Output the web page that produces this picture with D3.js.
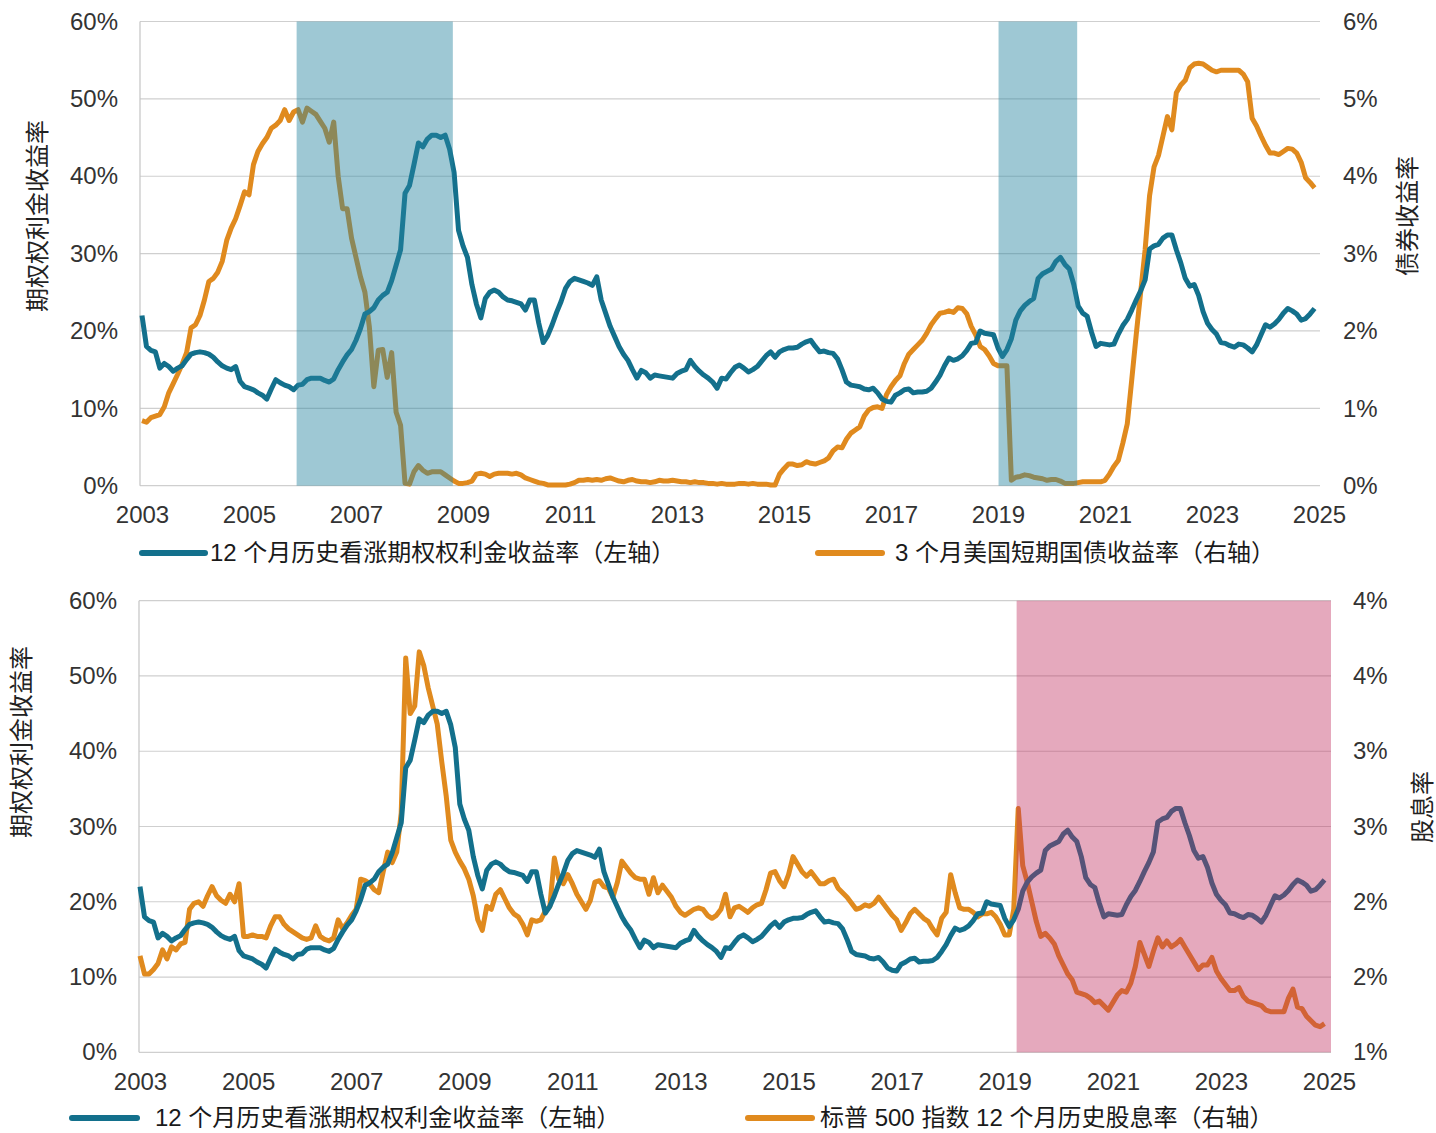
<!DOCTYPE html>
<html>
<head>
<meta charset="utf-8">
<script src="https://cdn.jsdelivr.net/npm/d3@7"></script>
<style>
  body { margin: 0; background: #fff; }
  svg text { font-family: "Liberation Sans", Arial, "Noto Sans CJK SC", sans-serif; }
</style>
</head>
<body>
<script>
// monthly series, Jan 2003 - Dec 2024
const startYear = 2003;

// 12 个月历史看涨期权权利金收益率 (%)
const callYield = [
  22.0, 18.0, 17.5, 17.3, 15.2, 15.8, 15.4, 14.8, 15.2, 15.5, 16.3, 17.0,
  17.2, 17.3, 17.2, 17.0, 16.6, 16.0, 15.5, 15.2, 15.0, 15.4, 13.5, 12.8,
  12.6, 12.4, 12.0, 11.7, 11.2, 12.5, 13.7, 13.3, 13.0, 12.8, 12.4, 13.0,
  13.1, 13.7, 13.9, 13.9, 13.9, 13.6, 13.4, 13.8, 15.0, 16.0, 16.9, 17.6,
  18.8, 20.3, 22.2, 22.5, 23.0, 24.0, 24.6, 25.0, 26.5, 28.5, 30.5, 37.8,
  38.8, 41.5, 44.3, 43.8, 44.8, 45.3, 45.3, 45.0, 45.3, 43.5, 40.5, 33.0,
  31.0, 29.5, 26.0, 23.5, 21.7, 24.2, 25.0, 25.3, 25.0, 24.4, 24.0, 23.9,
  23.7, 23.5, 22.7, 24.0, 24.0, 21.0, 18.5, 19.4, 20.8, 22.4, 23.8, 25.5,
  26.4, 26.8, 26.6, 26.4, 26.2, 25.9, 27.0, 24.0, 22.3, 20.6, 19.3, 18.0,
  17.0, 16.2, 15.0, 13.9, 14.9, 14.6, 13.9, 14.3, 14.2, 14.1, 14.0, 13.9,
  14.5, 14.8, 15.0, 16.2, 15.4, 14.8, 14.3, 13.9, 13.4, 12.6, 13.9, 13.8,
  14.6, 15.3, 15.6, 15.2, 14.7, 15.0, 15.4, 16.1, 16.8, 17.3, 16.6, 17.3,
  17.6, 17.8, 17.8, 17.9, 18.3, 18.6, 18.8, 18.0, 17.3, 17.4, 17.2, 17.1,
  16.4, 15.0, 13.4, 13.0, 12.9, 12.8, 12.5, 12.4, 12.6, 12.0, 11.2, 10.9,
  10.8, 11.7, 12.0, 12.4, 12.5, 12.0, 12.1, 12.1, 12.2, 12.6, 13.4, 14.3,
  15.5, 16.5, 16.2, 16.4, 16.8, 17.5, 18.4, 18.5, 20.0, 19.7, 19.6, 19.5,
  17.8, 16.7, 17.6, 19.0, 21.4, 22.6, 23.3, 23.8, 24.2, 26.8, 27.4, 27.7,
  28.0, 29.0, 29.5, 28.6, 28.0, 26.0, 23.2, 22.3, 21.9, 19.8, 18.0, 18.4,
  18.3, 18.2, 18.3, 19.6, 20.7, 21.5, 22.7, 24.0, 25.2, 26.6, 30.6, 31.0,
  31.2, 32.0, 32.4, 32.4, 30.5, 28.8, 26.8, 25.8, 26.0, 24.6, 22.5, 21.0,
  20.2, 19.6, 18.5, 18.4, 18.1, 17.9, 18.3, 18.2, 17.8, 17.3, 18.2, 19.5,
  20.8, 20.5, 20.9, 21.5, 22.3, 22.9, 22.6, 22.2, 21.4, 21.6, 22.2, 22.9
];

// 3 个月美国短期国债收益率 (%)
const billYield = [
  0.84, 0.82, 0.88, 0.90, 0.92, 1.02, 1.20, 1.32, 1.44, 1.57, 1.72, 2.04,
  2.08, 2.20, 2.40, 2.64, 2.68, 2.76, 2.90, 3.17, 3.33, 3.45, 3.62, 3.80,
  3.76, 4.15, 4.32, 4.42, 4.50, 4.62, 4.66, 4.72, 4.86, 4.72, 4.83, 4.86,
  4.70, 4.88, 4.84, 4.80, 4.71, 4.62, 4.44, 4.70, 4.00, 3.58, 3.58, 3.20,
  2.95, 2.70, 2.50, 2.05, 1.28, 1.75, 1.76, 1.40, 1.72, 0.95, 0.78, 0.03,
  0.02, 0.18, 0.26, 0.20, 0.16, 0.18, 0.18, 0.18, 0.14, 0.10, 0.06, 0.03,
  0.03, 0.04, 0.06, 0.15, 0.16, 0.15, 0.12, 0.15, 0.16, 0.16, 0.16, 0.15,
  0.16, 0.14, 0.10, 0.08, 0.06, 0.04, 0.03, 0.01, 0.01, 0.01, 0.01, 0.01,
  0.02, 0.04, 0.07, 0.07, 0.08, 0.07, 0.08, 0.07, 0.09, 0.10, 0.08, 0.06,
  0.05, 0.07, 0.08, 0.06, 0.05, 0.05, 0.04, 0.05, 0.07, 0.06, 0.06, 0.07,
  0.06, 0.05, 0.05, 0.04, 0.05, 0.04, 0.04, 0.03, 0.03, 0.02, 0.03, 0.02,
  0.02, 0.02, 0.03, 0.03, 0.02, 0.03, 0.02, 0.02, 0.02, 0.01, 0.01, 0.15,
  0.22, 0.28, 0.28, 0.26, 0.27, 0.31, 0.29, 0.28, 0.30, 0.32, 0.36, 0.45,
  0.50, 0.49, 0.60, 0.68, 0.72, 0.76, 0.90, 0.98, 1.01, 1.02, 1.00, 1.18,
  1.28, 1.36, 1.42, 1.58, 1.70, 1.76, 1.82, 1.88, 1.97, 2.08, 2.16, 2.23,
  2.24, 2.26, 2.24, 2.30, 2.29, 2.22, 2.06, 1.95, 1.80, 1.76, 1.68, 1.58,
  1.55, 1.55, 1.55, 0.07, 0.11, 0.12, 0.14, 0.13, 0.11, 0.10, 0.09, 0.07,
  0.08, 0.08, 0.06, 0.03, 0.03, 0.03, 0.04, 0.05, 0.05, 0.05, 0.05, 0.05,
  0.07, 0.15, 0.25, 0.33, 0.55, 0.80, 1.37, 1.95, 2.50, 3.05, 3.75, 4.12,
  4.27, 4.52, 4.77, 4.60, 5.08, 5.18, 5.24, 5.40, 5.45, 5.46, 5.45, 5.41,
  5.37, 5.35, 5.37, 5.37, 5.37, 5.37, 5.37, 5.32, 5.22, 4.75, 4.65, 4.52,
  4.40, 4.30, 4.30, 4.28, 4.32, 4.36, 4.35, 4.30, 4.18, 3.98, 3.92, 3.85
];

// 标普 500 指数 12 个月历史股息率 (%)
const divYield = [
  1.64, 1.52, 1.52, 1.55, 1.59, 1.68, 1.62, 1.70, 1.68, 1.72, 1.73, 1.95,
  1.99, 2.00, 1.97, 2.04, 2.10, 2.04, 2.01, 1.99, 2.05, 2.00, 2.12, 1.77,
  1.77, 1.78, 1.77, 1.77, 1.76, 1.84, 1.90, 1.90, 1.85, 1.82, 1.80, 1.78,
  1.76, 1.75, 1.76, 1.84, 1.77, 1.75, 1.74, 1.76, 1.88, 1.82, 1.86, 1.91,
  1.95, 2.15, 2.14, 2.12, 2.08, 2.06, 2.20, 2.33, 2.26, 2.33, 2.59, 3.62,
  3.25, 3.30, 3.66, 3.57, 3.42, 3.30, 3.18, 2.93, 2.70, 2.41, 2.33, 2.27,
  2.22, 2.15, 2.04, 1.88, 1.81, 1.97, 1.95, 2.05, 2.08, 2.02, 1.96, 1.92,
  1.90, 1.85, 1.78, 1.88, 1.87, 1.88, 1.94, 1.97, 2.29, 2.15, 2.12, 2.18,
  2.12, 2.05, 2.00, 1.95, 2.01, 2.13, 2.14, 2.10, 2.09, 2.03, 2.13, 2.27,
  2.23, 2.19, 2.16, 2.15, 2.15, 2.05, 2.16, 2.06, 2.11, 2.07, 2.03, 1.97,
  1.93, 1.91, 1.93, 1.95, 1.96, 1.95, 1.91, 1.89, 1.91, 1.95, 2.05, 1.90,
  1.96, 1.97, 1.95, 1.93, 1.96, 1.98, 1.99, 2.08, 2.19, 2.20, 2.14, 2.10,
  2.18, 2.30, 2.25, 2.20, 2.17, 2.20, 2.16, 2.12, 2.12, 2.14, 2.15, 2.09,
  2.06, 2.03, 1.99, 1.95, 1.96, 1.98, 1.97, 1.99, 2.03, 1.99, 1.95, 1.91,
  1.88, 1.81, 1.86, 1.92, 1.95, 1.92, 1.89, 1.87, 1.82, 1.78, 1.89, 1.93,
  2.18, 2.06, 1.96, 1.95, 1.95, 1.93, 1.90, 1.92, 1.92, 1.93, 1.90, 1.85,
  1.78, 1.78, 1.95, 2.62, 2.24, 2.13, 2.00, 1.87, 1.77, 1.79, 1.76, 1.72,
  1.64, 1.58, 1.52, 1.48, 1.40, 1.39, 1.38, 1.36, 1.33, 1.34, 1.31, 1.28,
  1.33, 1.38, 1.41, 1.40, 1.46, 1.57, 1.73, 1.65, 1.57, 1.67, 1.76, 1.70,
  1.74, 1.70, 1.72, 1.75, 1.70, 1.65, 1.60, 1.55, 1.58, 1.58, 1.63, 1.54,
  1.49, 1.45, 1.41, 1.41, 1.43, 1.37, 1.34, 1.33, 1.32, 1.31, 1.28, 1.27,
  1.27, 1.27, 1.27, 1.36, 1.42, 1.30, 1.29, 1.24, 1.21, 1.18, 1.17, 1.19
];

// tick values
const yearTicks = [2003, 2005, 2007, 2009, 2011, 2013, 2015, 2017, 2019, 2021, 2023, 2025];
const leftTicks = [0, 10, 20, 30, 40, 50, 60];
const billTicks = [0, 1, 2, 3, 4, 5, 6];
const divTicks = [1, 1.5, 2, 2.5, 3, 3.5, 4];

// shaded periods (decimal years)
const topShades = [[2005.89, 2008.81], [2019.01, 2020.48]];
const bottomShades = [[2019.22, 2025.05]];

const teal = "#13708c";
const orange = "#e08a1e";

const months = callYield.map(function(d, i) { return startYear + i / 12; });

const svg = d3.select("body").append("svg")
  .attr("width", 1436)
  .attr("height", 1133);

const panels = [
  {
    top: 21.5, bottom: 485.7, left: 140, right: 1320, x0: 142, x1: 1319,
    rightSeries: billYield, rightDomain: [0, 6], rightTicks: billTicks,
    shades: topShades, shadeFill: "rgba(40,132,160,0.45)",
    leftTitle: [38, 216], rightTitle: [1408, 216], rightTitleText: "债券收益率",
    rightPad: 23, xPad: 20,
    legendY: 553,
    legend: [
      {x0: 142, x1: 205, tx: 210, color: teal, text: "12 个月历史看涨期权权利金收益率（左轴）"},
      {x0: 818, x1: 882, tx: 895, color: orange, text: "3 个月美国短期国债收益率（右轴）"}
    ]
  },
  {
    top: 600.7, bottom: 1052.3, left: 139, right: 1331, x0: 140, x1: 1329,
    rightSeries: divYield, rightDomain: [1, 4], rightTicks: divTicks,
    shades: bottomShades, shadeFill: "rgba(190,40,90,0.4)",
    leftTitle: [22, 742], rightTitle: [1423, 807], rightTitleText: "股息率",
    rightPad: 22, xPad: 21,
    legendY: 1118,
    legend: [
      {x0: 72, x1: 137, tx: 155, color: teal, text: "12 个月历史看涨期权权利金收益率（左轴）"},
      {x0: 748, x1: 812, tx: 820, color: orange, text: "标普 500 指数 12 个月历史股息率（右轴）"}
    ]
  }
];

panels.forEach(drawPanel);

function drawPanel(p) {
  const g = svg.append("g");

  const x = d3.scaleLinear().domain([2003, 2025]).range([p.x0, p.x1]);
  const yLeft = d3.scaleLinear().domain([0, 60]).range([p.bottom, p.top]);
  const yRight = d3.scaleLinear().domain(p.rightDomain).range([p.bottom, p.top]);

  // gridlines
  g.selectAll(".grid")
    .data(leftTicks)
    .enter()
    .append("line")
    .attr("x1", p.left)
    .attr("x2", p.right)
    .attr("y1", function(d) { return yLeft(d); })
    .attr("y2", function(d) { return yLeft(d); })
    .attr("stroke", "#cfcfcf")
    .attr("stroke-width", 1.2);

  // left axis line
  g.append("line")
    .attr("x1", p.left).attr("x2", p.left)
    .attr("y1", p.top).attr("y2", p.bottom)
    .attr("stroke", "#c4c4c4")
    .attr("stroke-width", 1.2);

  const leftLine = d3.line()
    .x(function(d, i) { return x(months[i]); })
    .y(function(d) { return yLeft(d); });
  const rightLine = d3.line()
    .x(function(d, i) { return x(months[i]); })
    .y(function(d) { return yRight(d); });

  g.append("path")
    .datum(p.rightSeries)
    .attr("d", rightLine)
    .attr("fill", "none")
    .attr("stroke", orange)
    .attr("stroke-width", 5)
    .attr("stroke-linejoin", "round");

  g.append("path")
    .datum(callYield)
    .attr("d", leftLine)
    .attr("fill", "none")
    .attr("stroke", teal)
    .attr("stroke-width", 5)
    .attr("stroke-linejoin", "round");

  // shaded periods on top of the lines
  g.selectAll(".shade")
    .data(p.shades)
    .enter()
    .append("rect")
    .attr("x", function(d) { return x(d[0]); })
    .attr("width", function(d) { return Math.min(x(d[1]), p.right) - x(d[0]); })
    .attr("y", p.top)
    .attr("height", p.bottom - p.top)
    .attr("fill", p.shadeFill);

  // axes
  const leftAxis = g.append("g")
    .attr("transform", "translate(" + p.left + ",0)")
    .call(d3.axisLeft(yLeft).tickValues(leftTicks)
      .tickFormat(function(d) { return d + "%"; })
      .tickSize(0).tickPadding(22));

  const rightAxis = g.append("g")
    .attr("transform", "translate(" + p.right + ",0)")
    .call(d3.axisRight(yRight).tickValues(p.rightTicks)
      .tickFormat(function(d) { return Math.round(d) + "%"; })
      .tickSize(0).tickPadding(p.rightPad));

  const xAxis = g.append("g")
    .attr("transform", "translate(0," + p.bottom + ")")
    .call(d3.axisBottom(x).tickValues(yearTicks)
      .tickFormat(d3.format("d"))
      .tickSize(0).tickPadding(p.xPad));

  [leftAxis, rightAxis, xAxis].forEach(function(a) {
    a.select(".domain").remove();
    a.attr("font-family", null).attr("font-size", null);
    a.selectAll("text")
      .style("font-size", "24px")
      .attr("fill", "#333");
  });

  // axis titles
  g.append("text")
    .attr("transform", "translate(" + p.leftTitle[0] + "," + p.leftTitle[1] + ") rotate(-90)")
    .attr("text-anchor", "middle")
    .attr("dy", "0.35em")
    .style("font-size", "24px")
    .attr("fill", "#222")
    .text("期权权利金收益率");

  g.append("text")
    .attr("transform", "translate(" + p.rightTitle[0] + "," + p.rightTitle[1] + ") rotate(-90)")
    .attr("text-anchor", "middle")
    .attr("dy", "0.35em")
    .style("font-size", "24px")
    .attr("fill", "#222")
    .text(p.rightTitleText);

  // legend
  const leg = g.selectAll(".legend")
    .data(p.legend)
    .enter()
    .append("g");

  leg.append("line")
    .attr("x1", function(d) { return d.x0; })
    .attr("x2", function(d) { return d.x1; })
    .attr("y1", p.legendY)
    .attr("y2", p.legendY)
    .attr("stroke", function(d) { return d.color; })
    .attr("stroke-width", 6)
    .attr("stroke-linecap", "round");

  leg.append("text")
    .attr("x", function(d) { return d.tx; })
    .attr("y", p.legendY)
    .attr("dy", "0.35em")
    .style("font-size", "24px")
    .attr("fill", "#1a1a1a")
    .text(function(d) { return d.text; });
}
</script>
</body>
</html>
